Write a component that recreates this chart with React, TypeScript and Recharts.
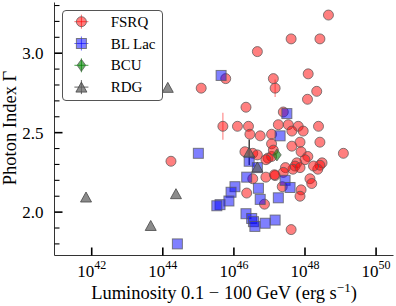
import React from 'react';
import { ScatterChart, Scatter, XAxis, YAxis, ErrorBar, Legend } from 'recharts';

const FONT = "'Liberation Serif', 'Times New Roman', serif";

// log10 luminosity axis range and ticks
const xDomain: [number, number] = [40.953, 50.49];
const xTicks = [42, 44, 46, 48, 50];
const yDomain: [number, number] = [1.727, 3.319];
const yTicks = [1.8, 1.9, 2.0, 2.1, 2.2, 2.3, 2.4, 2.5, 2.6, 2.7, 2.8, 2.9, 3.0, 3.1, 3.2, 3.3];

const categories = ['FSRQ', 'BL Lac', 'BCU', 'RDG'];

// [log10 L, photon index, error]
const fsrqPoints: number[][] = [
  [48.66, 3.24], [47.61, 3.09], [48.42, 3.09], [46.66, 3.01], [48.09, 2.87],
  [47.11, 2.84], [47.16, 2.78, 0.055], [48.33, 2.76], [48.07, 2.71], [47.39, 2.63],
  [45.77, 2.84], [45.08, 2.78], [46.34, 2.66], [45.69, 2.54, 0.085], [46.10, 2.54],
  [46.41, 2.54], [46.45, 2.49], [46.74, 2.48], [47.06, 2.49], [47.25, 2.55],
  [47.53, 2.55], [47.81, 2.54], [48.38, 2.54], [47.63, 2.51], [47.95, 2.51],
  [48.42, 2.44], [47.86, 2.44], [47.63, 2.415], [44.23, 2.32], [46.31, 2.38],
  [46.53, 2.37], [46.66, 2.36], [46.96, 2.34], [47.06, 2.35], [47.06, 2.43],
  [47.11, 2.39], [46.90, 2.33], [47.89, 2.38], [49.08, 2.37], [48.08, 2.35],
  [48.00, 2.33], [48.48, 2.31], [48.42, 2.295], [48.36, 2.27], [47.77, 2.31],
  [47.72, 2.29], [47.66, 2.27], [47.45, 2.28], [47.86, 2.28], [48.24, 2.29],
  [47.39, 2.25], [47.16, 2.23], [46.53, 2.21], [46.90, 2.22], [47.14, 2.235],
  [48.14, 2.21], [48.19, 2.18], [47.89, 2.14], [47.86, 2.10], [47.36, 2.16],
  [46.36, 2.12], [46.86, 2.05], [47.61, 1.89],
];

const bllacPoints: number[][] = [
  [45.64, 2.86], [47.49, 2.62], [45.00, 2.37], [47.30, 2.48], [46.43, 2.32],
  [46.66, 2.28], [46.36, 2.22], [47.44, 2.20], [47.58, 2.155], [47.25, 2.09],
  [46.69, 2.15], [46.03, 2.16], [45.92, 2.125], [45.86, 2.07], [45.61, 2.047],
  [45.52, 2.04], [46.74, 2.08], [47.16, 1.95], [46.34, 1.99], [46.50, 1.96],
  [46.55, 1.94], [46.59, 1.91], [46.88, 1.93], [44.41, 1.80],
];

const bcuPoints: number[][] = [[47.21, 2.36]];

const rdgPoints: number[][] = [
  [44.14, 2.785], [41.84, 2.095], [43.66, 1.916], [44.37, 2.116],
  [46.43, 2.377, 0.08], [46.66, 2.284],
];

const toRows = (pts: number[][]) =>
  pts.map((p) => ({ x: p[0], y: p[1], err: p[2] }));

const fsrqData = toRows(fsrqPoints);
const bllacData = toRows(bllacPoints);
const bcuData = toRows(bcuPoints);
const rdgData = toRows(rdgPoints);

const EDGE = 'rgba(90,90,90,0.75)';

const CircleShape = (p: any) => (
  <circle cx={p.cx} cy={p.cy} r={5} fill="rgba(255,0,0,0.5)" stroke={EDGE} strokeWidth={1} />
);
const SquareShape = (p: any) => (
  <rect x={p.cx - 5} y={p.cy - 5} width={10} height={10} fill="rgba(0,0,255,0.5)" stroke={EDGE} strokeWidth={1} />
);
const DiamondShape = (p: any) => (
  <polygon
    points={`${p.cx},${p.cy - 6} ${p.cx + 4.3},${p.cy} ${p.cx},${p.cy + 6} ${p.cx - 4.3},${p.cy}`}
    fill="rgba(0,128,0,0.6)" stroke={EDGE} strokeWidth={1}
  />
);
const TriangleShape = (p: any) => (
  <polygon
    points={`${p.cx},${p.cy - 5} ${p.cx + 5.5},${p.cy + 5} ${p.cx - 5.5},${p.cy + 5}`}
    fill="rgba(100,100,100,0.75)" stroke="rgba(70,70,70,0.8)" strokeWidth={1}
  />
);

const isMajorY = (v: number) => Math.abs(v * 2 - Math.round(v * 2)) < 1e-6;

const YTickLeft = (props: any) => {
  const { x, y, payload } = props;
  const major = isMajorY(payload.value);
  return (
    <g>
      <line x1={x} x2={x + (major ? 8 : 5)} y1={y} y2={y} stroke="#000" strokeWidth={major ? 1.6 : 1.1} />
      {major && (
        <text x={x - 11} y={y} dy={6} textAnchor="end" fontFamily={FONT} fontSize={17} fill="#000">
          {payload.value.toFixed(1)}
        </text>
      )}
    </g>
  );
};

const YTickRight = (props: any) => {
  const { x, y, payload } = props;
  const major = isMajorY(payload.value);
  return (
    <line x1={x} x2={x - (major ? 8 : 5)} y1={y} y2={y} stroke="#000" strokeWidth={major ? 1.6 : 1.1} />
  );
};

const XTickBottom = (props: any) => {
  const { x, y, payload } = props;
  return (
    <g>
      <line x1={x} x2={x} y1={y} y2={y - 8} stroke="#000" strokeWidth={1.6} />
      <text x={x} y={y + 21} textAnchor="middle" fontFamily={FONT} fontSize={17} fill="#000">
        10<tspan dy={-8} fontSize={12}>{payload.value}</tspan>
      </text>
    </g>
  );
};

const XTickTop = (props: any) => {
  const { x, y } = props;
  return <line x1={x} x2={x} y1={y} y2={y + 8} stroke="#000" strokeWidth={1.6} />;
};

const XLabel = (props: any) => {
  const vb = props.viewBox || { x: 0, y: 0, width: 0, height: 0 };
  const cx = vb.x + vb.width / 2;
  return (
    <text x={cx} y={vb.y + 43.5} textAnchor="middle" fontFamily={FONT} fontSize={18.5} fill="#000">
      Luminosity 0.1 − 100 GeV (erg s<tspan dy={-7} fontSize={13}>−1</tspan><tspan dy={7}>)</tspan>
    </text>
  );
};

const YLabel = (props: any) => {
  const vb = props.viewBox || { x: 0, y: 0, width: 0, height: 0 };
  const cx = 16;
  const cy = vb.y + vb.height / 2 - 1;
  return (
    <text x={cx} y={cy} textAnchor="middle" transform={`rotate(-90, ${cx}, ${cy})`} fontFamily={FONT} fontSize={18.5} fill="#000">
      Photon Index Γ
    </text>
  );
};

const legendMarkers = [
  (cx: number, cy: number) => (
    <g>
      <line x1={cx - 7} x2={cx + 7} y1={cy} y2={cy} stroke="rgba(255,0,0,0.6)" />
      <line x1={cx} x2={cx} y1={cy - 7} y2={cy + 7} stroke="rgba(255,0,0,0.6)" />
      <CircleShape cx={cx} cy={cy} />
    </g>
  ),
  (cx: number, cy: number) => (
    <g>
      <line x1={cx - 7} x2={cx + 7} y1={cy} y2={cy} stroke="rgba(0,0,255,0.6)" />
      <line x1={cx} x2={cx} y1={cy - 7} y2={cy + 7} stroke="rgba(0,0,255,0.6)" />
      <SquareShape cx={cx} cy={cy} />
    </g>
  ),
  (cx: number, cy: number) => (
    <g>
      <line x1={cx - 7} x2={cx + 7} y1={cy} y2={cy} stroke="rgba(0,128,0,0.7)" />
      <line x1={cx} x2={cx} y1={cy - 7} y2={cy + 7} stroke="rgba(0,128,0,0.7)" />
      <DiamondShape cx={cx} cy={cy} />
    </g>
  ),
  (cx: number, cy: number) => (
    <g>
      <line x1={cx - 7} x2={cx + 7} y1={cy} y2={cy} stroke="rgba(60,60,60,0.8)" />
      <line x1={cx} x2={cx} y1={cy - 7} y2={cy + 7} stroke="rgba(60,60,60,0.8)" />
      <TriangleShape cx={cx} cy={cy} />
    </g>
  ),
];

const LegendBox = () => (
  <div
    style={{
      width: 101,
      height: 91,
      boxSizing: 'border-box',
      border: '1px solid #555',
      borderRadius: 4,
      background: '#fff',
    }}
  >
    <svg width={99} height={89} style={{ display: 'block' }}>
      {categories.map((name, i) => {
        const cy = 10.7 + i * 21.8;
        return (
          <g key={name}>
            {legendMarkers[i](18.4, cy)}
            <text x={47.7} y={cy} dy={5} fontFamily={FONT} fontSize={15} fill="#000">
              {name}
            </text>
          </g>
        );
      })}
    </svg>
  </div>
);

export default function App() {
  return (
    <div style={{ position: 'absolute', left: 0, top: 0, width: 396, height: 306, background: '#fff' }}>
      <ScatterChart width={396} height={306} margin={{ top: 2.5, right: 2.5, bottom: 0, left: 0.5 }}>
        <XAxis
          xAxisId="b"
          type="number"
          dataKey="x"
          domain={xDomain}
          ticks={xTicks}
          allowDataOverflow
          interval={0}
          height={50.5}
          tickSize={0}
          tickMargin={0}
          tickLine={false}
          axisLine={{ stroke: '#333', strokeWidth: 1 }}
          tick={<XTickBottom />}
          label={<XLabel />}
        />
        <XAxis
          xAxisId="t"
          orientation="top"
          type="number"
          dataKey="x"
          domain={xDomain}
          ticks={xTicks}
          allowDataOverflow
          interval={0}
          height={0}
          tickSize={0}
          tickMargin={0}
          tickLine={false}
          axisLine={{ stroke: '#333', strokeWidth: 1 }}
          tick={<XTickTop />}
        />
        <YAxis
          yAxisId="l"
          type="number"
          dataKey="y"
          domain={yDomain}
          ticks={yTicks}
          allowDataOverflow
          interval={0}
          width={54}
          tickSize={0}
          tickMargin={0}
          tickLine={false}
          axisLine={{ stroke: '#333', strokeWidth: 1 }}
          tick={<YTickLeft />}
          label={<YLabel />}
        />
        <YAxis
          yAxisId="r"
          orientation="right"
          type="number"
          dataKey="y"
          domain={yDomain}
          ticks={yTicks}
          allowDataOverflow
          interval={0}
          width={0}
          tickSize={0}
          tickMargin={0}
          tickLine={false}
          axisLine={{ stroke: '#333', strokeWidth: 1 }}
          tick={<YTickRight />}
        />
        <Legend
          layout="vertical"
          align="center"
          verticalAlign="middle"
          width={101}
          height={91}
          wrapperStyle={{ left: 62, top: 10, width: 101, height: 91 }}
          content={<LegendBox />}
        />
        <Scatter name="FSRQ" data={fsrqData} xAxisId="b" yAxisId="l" shape={<CircleShape />} isAnimationActive={false}>
          <ErrorBar dataKey="err" direction="y" width={0} stroke="rgba(255,0,0,0.45)" strokeWidth={1.2} />
        </Scatter>
        <Scatter name="BL Lac" data={bllacData} xAxisId="b" yAxisId="l" shape={<SquareShape />} isAnimationActive={false} />
        <Scatter name="BCU" data={bcuData} xAxisId="b" yAxisId="l" shape={<DiamondShape />} isAnimationActive={false} />
        <Scatter name="RDG" data={rdgData} xAxisId="b" yAxisId="l" shape={<TriangleShape />} isAnimationActive={false}>
          <ErrorBar dataKey="err" direction="y" width={0} stroke="#111" strokeWidth={1.2} />
        </Scatter>
      </ScatterChart>
    </div>
  );
}
